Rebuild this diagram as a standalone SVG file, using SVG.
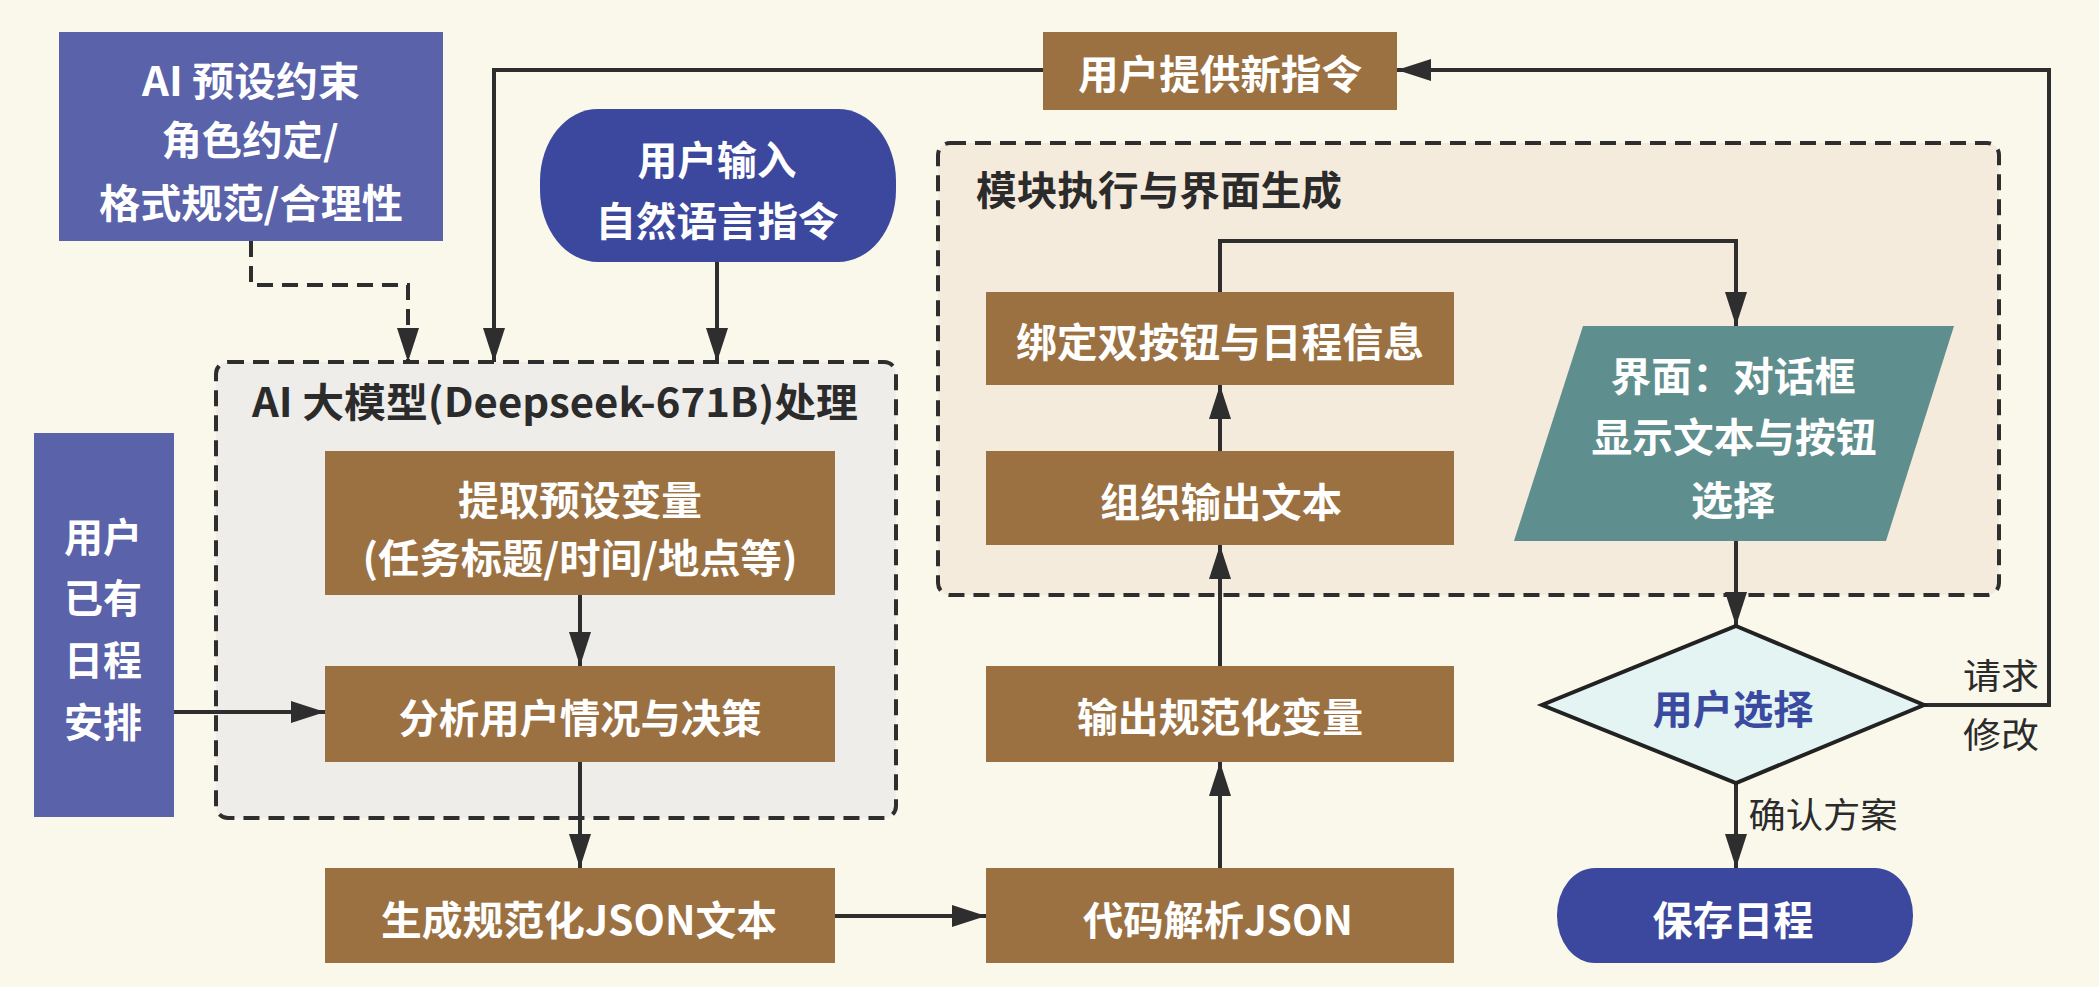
<svg xmlns="http://www.w3.org/2000/svg" width="2099" height="987" viewBox="0 0 2099 987">
<defs>
<style>
.t{font-family:"Noto Sans CJK SC","Noto Sans",sans-serif;font-weight:bold;font-size:40px;fill:#fff;text-anchor:middle;dominant-baseline:central}
.d{fill:#2b2b2b}
.lbl{font-family:"Noto Sans CJK SC","Noto Sans",sans-serif;font-weight:normal;font-size:35px;fill:#2b2b2b;text-anchor:middle;dominant-baseline:central}
.brown{fill:#9b7142}
.purple{fill:#5a62aa}
.navy{fill:#3c489e}
.c{fill:none;stroke:#2e2e2e;stroke-width:4}
.dash{stroke-dasharray:16 9}
.cont{stroke:#2e2e2e;stroke-width:4;stroke-dasharray:16 9}
</style>
<marker id="ah" markerUnits="userSpaceOnUse" markerWidth="34" markerHeight="22" refX="34" refY="11" orient="auto">
<path d="M0,0 L34,11 L0,22 z" fill="#2e2e2e"/>
</marker>
</defs>
<rect width="2099" height="987" fill="#faf8eb"/>

<g id="container-ai">
<rect x="216" y="362" width="680" height="456" rx="12" fill="#eeedea" class="cont"/>
<text class="t d" x="555" y="400" textLength="606" lengthAdjust="spacingAndGlyphs">AI 大模型(Deepseek-671B)处理</text>
</g>
<g id="container-module">
<rect x="938" y="143" width="1061" height="452" rx="12" fill="#f5ebdc" class="cont"/>
<text class="t d" x="1159" y="188" textLength="366" lengthAdjust="spacingAndGlyphs">模块执行与界面生成</text>
</g>

<g id="connectors">
<path class="c dash" d="M251,241 V285 H408 V362" marker-end="url(#ah)"/>
<path class="c" d="M717,262 V362" marker-end="url(#ah)"/>
<path class="c" d="M1043,70 H494 V362" marker-end="url(#ah)"/>
<path class="c" d="M174,712 H325" marker-end="url(#ah)"/>
<path class="c" d="M580,595 V666" marker-end="url(#ah)"/>
<path class="c" d="M580,762 V868" marker-end="url(#ah)"/>
<path class="c" d="M835,916 H986" marker-end="url(#ah)"/>
<path class="c" d="M1220,868 V762" marker-end="url(#ah)"/>
<path class="c" d="M1220,666 V545" marker-end="url(#ah)"/>
<path class="c" d="M1220,451 V385" marker-end="url(#ah)"/>
<path class="c" d="M1220,292 V241 H1736 V326" marker-end="url(#ah)"/>
<path class="c" d="M1736,541 V626" marker-end="url(#ah)"/>
<path class="c" d="M1736,783 V868" marker-end="url(#ah)"/>
<path class="c" d="M1924,705 H2049 V70 H1397" marker-end="url(#ah)"/>
<text class="lbl" x="1823" y="812" textLength="149" lengthAdjust="spacingAndGlyphs">确认方案</text>
<text class="lbl" x="2001" y="673" textLength="76" lengthAdjust="spacingAndGlyphs">请求</text>
<text class="lbl" x="2001" y="732" textLength="76" lengthAdjust="spacingAndGlyphs">修改</text>
</g>

<g id="ai-constraint">
<rect x="59" y="32" width="384" height="209" class="purple"/>
<text class="t" x="251" y="79" textLength="218" lengthAdjust="spacingAndGlyphs">AI 预设约束</text>
<text class="t" x="250" y="138" textLength="177" lengthAdjust="spacingAndGlyphs">角色约定/</text>
<text class="t" x="251" y="201" textLength="304" lengthAdjust="spacingAndGlyphs">格式规范/合理性</text>
</g>

<g id="user-input">
<rect x="540" y="109" width="356" height="153" rx="58" ry="72" class="navy"/>
<text class="t" x="717" y="158" textLength="159" lengthAdjust="spacingAndGlyphs">用户输入</text>
<text class="t" x="717" y="219" textLength="243" lengthAdjust="spacingAndGlyphs">自然语言指令</text>
</g>

<g id="user-new-instruction">
<rect x="1043" y="32" width="354" height="78" class="brown"/>
<text class="t" x="1220" y="72" textLength="284" lengthAdjust="spacingAndGlyphs">用户提供新指令</text>
</g>

<g id="user-schedule">
<rect x="34" y="433" width="140" height="384" class="purple"/>
<text class="t" x="103" y="535" textLength="78" lengthAdjust="spacingAndGlyphs">用户</text>
<text class="t" x="103" y="596" textLength="78" lengthAdjust="spacingAndGlyphs">已有</text>
<text class="t" x="103" y="658" textLength="78" lengthAdjust="spacingAndGlyphs">日程</text>
<text class="t" x="103" y="720" textLength="78" lengthAdjust="spacingAndGlyphs">安排</text>
</g>

<g id="extract">
<rect x="325" y="451" width="510" height="144" class="brown"/>
<text class="t" x="580" y="498" textLength="244" lengthAdjust="spacingAndGlyphs">提取预设变量</text>
<text class="t" x="580" y="556" textLength="435" lengthAdjust="spacingAndGlyphs">(任务标题/时间/地点等)</text>
</g>

<g id="analyze">
<rect x="325" y="666" width="510" height="96" class="brown"/>
<text class="t" x="580" y="716" textLength="363" lengthAdjust="spacingAndGlyphs">分析用户情况与决策</text>
</g>

<g id="gen-json">
<rect x="325" y="868" width="510" height="95" class="brown"/>
<text class="t" x="579" y="918" textLength="396" lengthAdjust="spacingAndGlyphs">生成规范化JSON文本</text>
</g>

<g id="parse-json">
<rect x="986" y="868" width="468" height="95" class="brown"/>
<text class="t" x="1218" y="918" textLength="270" lengthAdjust="spacingAndGlyphs">代码解析JSON</text>
</g>

<g id="output-vars">
<rect x="986" y="666" width="468" height="96" class="brown"/>
<text class="t" x="1220" y="715" textLength="286" lengthAdjust="spacingAndGlyphs">输出规范化变量</text>
</g>

<g id="organize-text">
<rect x="986" y="451" width="468" height="94" class="brown"/>
<text class="t" x="1221" y="500" textLength="242" lengthAdjust="spacingAndGlyphs">组织输出文本</text>
</g>

<g id="bind-buttons">
<rect x="986" y="292" width="468" height="93" class="brown"/>
<text class="t" x="1220" y="340" textLength="408" lengthAdjust="spacingAndGlyphs">绑定双按钮与日程信息</text>
</g>

<g id="ui-dialog">
<polygon points="1583,326 1954,326 1886,541 1514,541" fill="#5f8e8e"/>
<text class="t" x="1733" y="374" textLength="245" lengthAdjust="spacingAndGlyphs">界面：对话框</text>
<text class="t" x="1734" y="435" textLength="285" lengthAdjust="spacingAndGlyphs">显示文本与按钮</text>
<text class="t" x="1733" y="498" textLength="84" lengthAdjust="spacingAndGlyphs">选择</text>
</g>

<g id="user-choice">
<polygon points="1736,626 1924,705 1736,783 1542,705" fill="#e3f4f3" stroke="#222" stroke-width="4"/>
<text class="t" x="1733" y="707" style="fill:#3a4aa0" textLength="161" lengthAdjust="spacingAndGlyphs">用户选择</text>
</g>

<g id="save-schedule">
<rect x="1557" y="868" width="356" height="95" rx="38" ry="47" class="navy"/>
<text class="t" x="1733" y="918" textLength="161" lengthAdjust="spacingAndGlyphs">保存日程</text>
</g>
</svg>
